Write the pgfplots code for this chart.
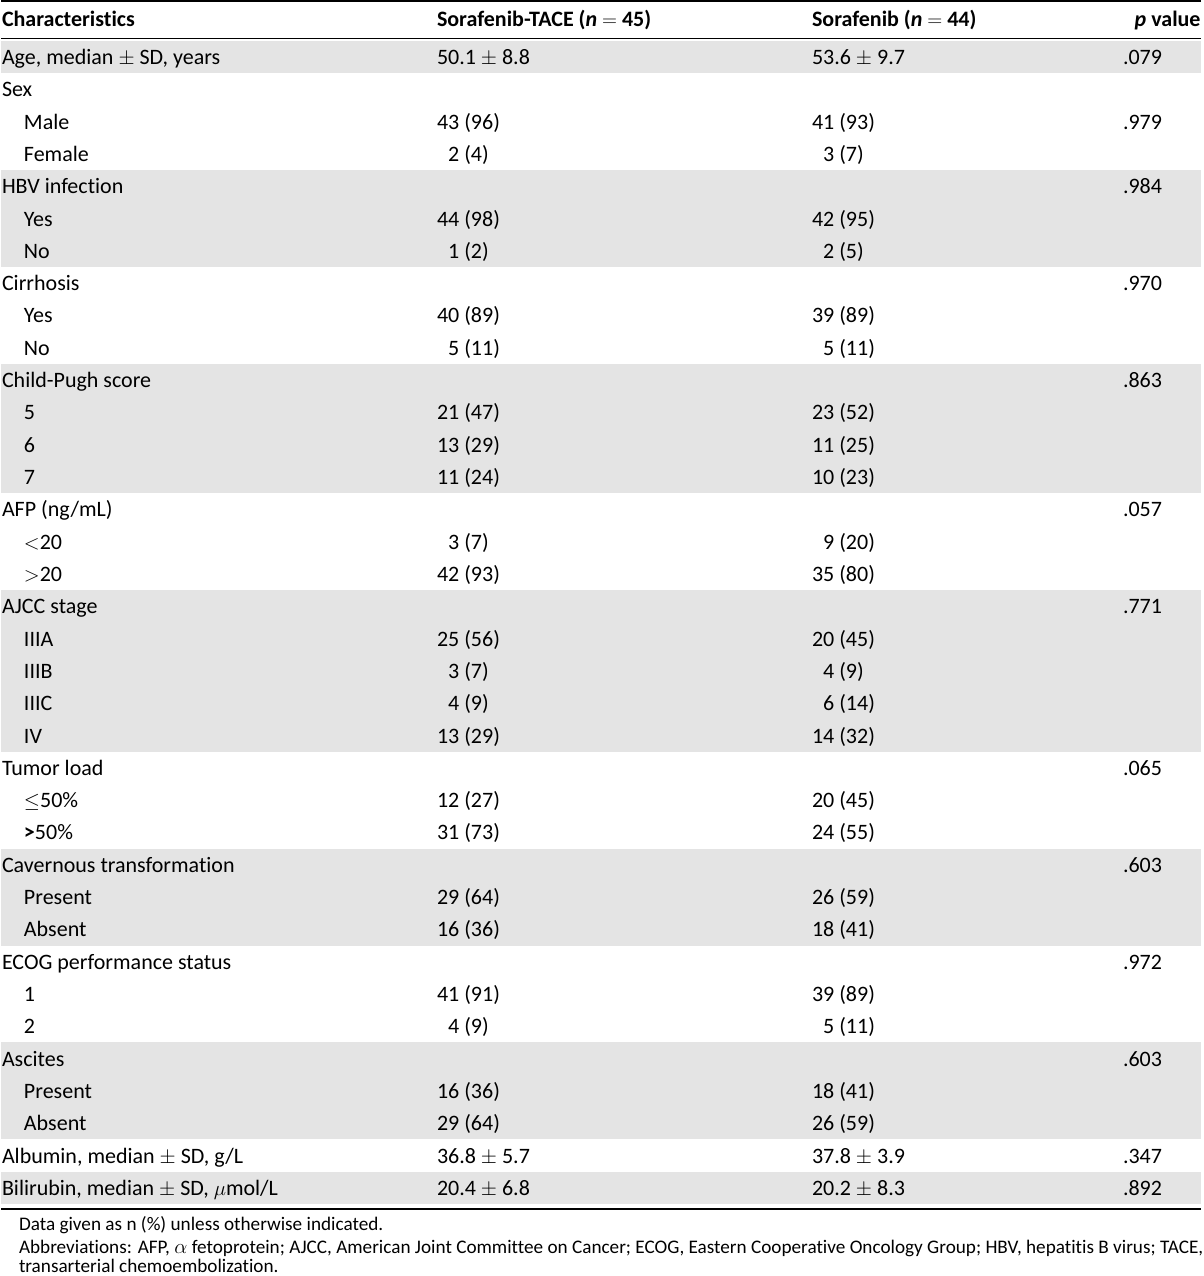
\documentclass[border=0pt]{standalone}
\usepackage{pgfplots}
\pgfplotsset{compat=1.18}
\usepackage{fontspec}
\setmainfont{Carlito}[Ligatures={NoCommon}]
\definecolor{band}{HTML}{E4E4E4}
\tikzset{t/.style={anchor=base west, inner sep=0pt, outer sep=0pt, font=\fontsize{22}{26}\selectfont},
         fn/.style={anchor=base west, inner sep=0pt, outer sep=0pt, font=\fontsize{19.2}{23}\selectfont}}
\newcommand\ind{\hspace*{22pt}}
\newcommand\z{\phantom{0}}
% row y centre: 57 + (i-1)*32.31
\newcommand\R[5]{%
  \node[t] at (axis cs:1,{57+(#1-1)*32.31+7.5}) {#2};
  \node[t] at (axis cs:436,{57+(#1-1)*32.31+7.5}) {#3};
  \node[t] at (axis cs:811,{57+(#1-1)*32.31+7.5}) {#4};
  \node[t] at (axis cs:1122,{57+(#1-1)*32.31+7.5}) {#5};
}
\newcommand\B[2]{%
  \fill[band] (axis cs:0,{57+(#1-1)*32.31-16.15}) rectangle (axis cs:1200,{57+(#2-1)*32.31+16.15});
}
\begin{document}
\begin{tikzpicture}
\begin{axis}[
  width=1200pt, height=1276pt, scale only axis,
  xmin=0, xmax=1200, ymin=0, ymax=1276, y dir=reverse,
  hide axis, clip=false
]
\path (axis cs:0,0) rectangle (axis cs:1200,1276);
\B{1}{1}\B{5}{7}\B{11}{14}\B{18}{22}\B{26}{28}\B{32}{34}\B{36}{36}
\draw[line width=2pt] (axis cs:0,1.2) -- (axis cs:1200,1.2);
\draw[line width=1.3pt] (axis cs:0,38.5) -- (axis cs:1200,38.5);
\draw[line width=1.3pt] (axis cs:0,1209) -- (axis cs:1200,1209);
% header
\node[t] at (axis cs:1,26.5) {\textbf{Characteristics}};
\node[t] at (axis cs:436,26.5) {\textbf{Sorafenib-TACE (\textit{n} $\mathbf{=}$ 45)}};
\node[t] at (axis cs:811,26.5) {\textbf{Sorafenib (\textit{n} $\mathbf{=}$ 44)}};
\node[t, anchor=base east] at (axis cs:1199.5,26.5) {\textbf{\textit{p} value}};
\R{1}{Age, median $\pm$ SD, years}{50.1 $\pm$ 8.8}{53.6 $\pm$ 9.7}{.079}
\R{2}{Sex}{}{}{}
\R{3}{\ind Male}{43 (96)}{41 (93)}{.979}
\R{4}{\ind Female}{\z2 (4)}{\z3 (7)}{}
\R{5}{HBV infection}{}{}{.984}
\R{6}{\ind Yes}{44 (98)}{42 (95)}{}
\R{7}{\ind No}{\z1 (2)}{\z2 (5)}{}
\R{8}{Cirrhosis}{}{}{.970}
\R{9}{\ind Yes}{40 (89)}{39 (89)}{}
\R{10}{\ind No}{\z5 (11)}{\z5 (11)}{}
\R{11}{Child-Pugh score}{}{}{.863}
\R{12}{\ind 5}{21 (47)}{23 (52)}{}
\R{13}{\ind 6}{13 (29)}{11 (25)}{}
\R{14}{\ind 7}{11 (24)}{10 (23)}{}
\R{15}{AFP (ng/mL)}{}{}{.057}
\R{16}{\ind $<$20}{\z3 (7)}{\z9 (20)}{}
\R{17}{\ind $>$20}{42 (93)}{35 (80)}{}
\R{18}{AJCC stage}{}{}{.771}
\R{19}{\ind IIIA}{25 (56)}{20 (45)}{}
\R{20}{\ind IIIB}{\z3 (7)}{\z4 (9)}{}
\R{21}{\ind IIIC}{\z4 (9)}{\z6 (14)}{}
\R{22}{\ind IV}{13 (29)}{14 (32)}{}
\R{23}{Tumor load}{}{}{.065}
\R{24}{\ind $\leq$50\%}{12 (27)}{20 (45)}{}
\R{25}{\ind \textbf{>}50\%}{31 (73)}{24 (55)}{}
\R{26}{Cavernous transformation}{}{}{.603}
\R{27}{\ind Present}{29 (64)}{26 (59)}{}
\R{28}{\ind Absent}{16 (36)}{18 (41)}{}
\R{29}{ECOG performance status}{}{}{.972}
\R{30}{\ind 1}{41 (91)}{39 (89)}{}
\R{31}{\ind 2}{\z4 (9)}{\z5 (11)}{}
\R{32}{Ascites}{}{}{.603}
\R{33}{\ind Present}{16 (36)}{18 (41)}{}
\R{34}{\ind Absent}{29 (64)}{26 (59)}{}
\R{35}{Albumin, median $\pm$ SD, g/L}{36.8 $\pm$ 5.7}{37.8 $\pm$ 3.9}{.347}
\R{36}{Bilirubin, median $\pm$ SD, $\mu$mol/L}{20.4 $\pm$ 6.8}{20.2 $\pm$ 8.3}{.892}
% footnotes
\node[fn] at (axis cs:18,1230) {Data given as n (\%) unless otherwise indicated.};
\node[fn] at (axis cs:18,1253) {Abbreviations: AFP, $\alpha$ fetoprotein; AJCC, American Joint Committee on Cancer; ECOG, Eastern Cooperative Oncology Group; HBV, hepatitis B virus; TACE,};
\node[fn] at (axis cs:18,1272) {transarterial chemoembolization.};
\end{axis}
\end{tikzpicture}
\end{document}
